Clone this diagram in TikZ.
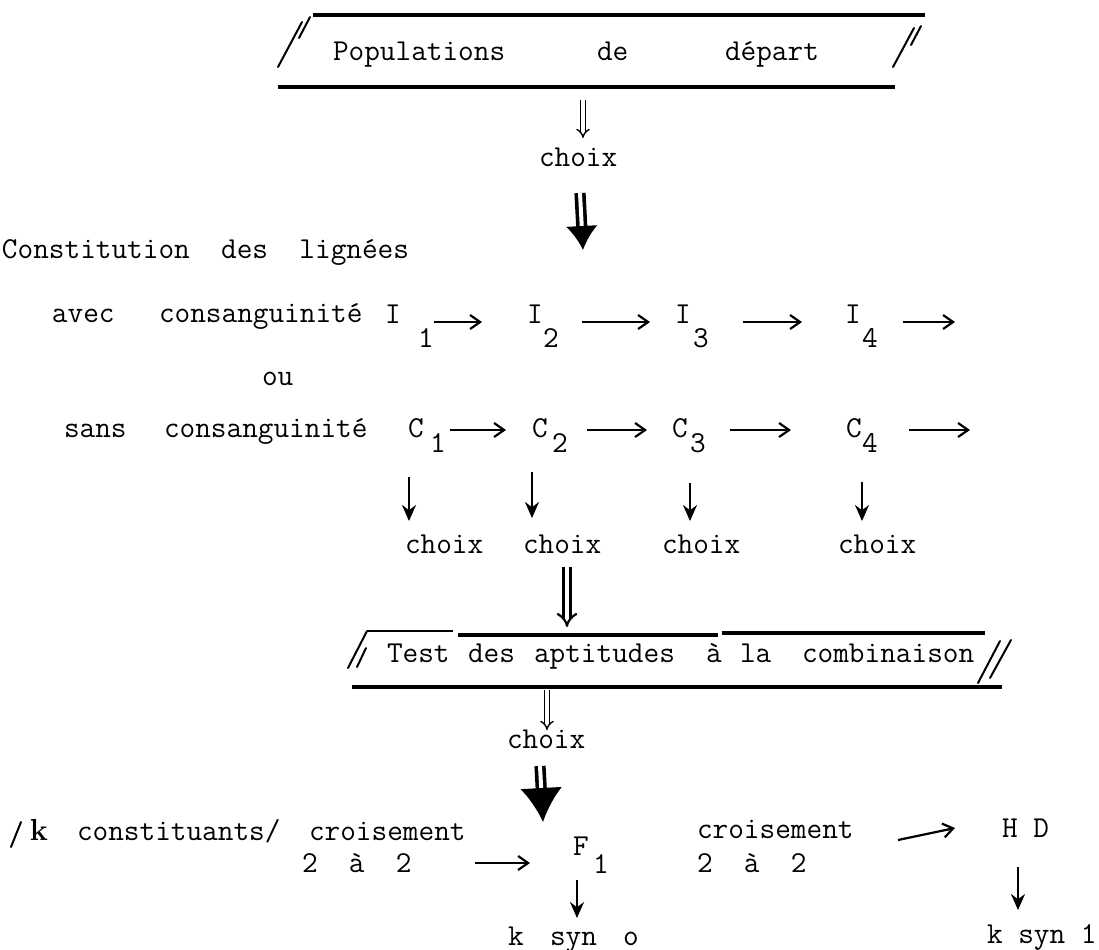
\documentclass[tikz,border=0pt]{standalone}
\usetikzlibrary{arrows.meta}
\begin{document}
\begin{tikzpicture}[x=0.5pt,y=-0.5pt,
  txt/.style={anchor=base west, inner sep=0pt, outer sep=0pt, font=\fontsize{15.2}{18}\selectfont\ttfamily},
  boxline/.style={line width=1.6pt},
  thinline/.style={line width=1pt},
  slash/.style={line width=1pt, line cap=round},
  harrow/.style={line width=1.1pt, -{Straight Barb[length=5pt,width=7pt]}},
  varrow/.style={line width=1.1pt, -{Stealth[length=8pt,width=7pt]}},
  thindbl/.style={double, double distance=1.6pt, line width=0.7pt, -{Implies}},
  boldbl/.style={double, double distance=2.4pt, line width=1.1pt, -{Implies}},
  fatarrow/.style={double, double distance=2pt, line width=1.8pt, -{Latex[length=12pt,width=16pt]}},
  fatarrowB/.style={double, double distance=2pt, line width=1.8pt, -{Latex[length=17pt,width=21pt]}},
]
\fill[white] (0,0) rectangle (1099,949);
\useasboundingbox (0,0) rectangle (1099,949);

% ---- top box
\draw[boxline] (313,15) -- (925,15);
\draw[boxline] (278,87) -- (895,87);
\draw[slash] (278,67) -- (302,22);
\draw[slash] (299,38) -- (310,17);
\draw[slash] (893,67) -- (914,28);
\draw[slash] (911,45) -- (921,26);
\node[txt] (pop) at (333,60) {Populations};
\node[txt] (de) at (597,60) {de};
\node[txt] (depart) at (725,60) {départ};

\coordinate (t1) at (583,100); \coordinate (t2) at (583,138);
\draw[thindbl] (t1) -- (t2);
\node[txt] (choixA) at (539,166) {choix};
\coordinate (f1) at (580,193); \coordinate (f2) at (583,250);
\draw[fatarrow] (f1) -- (f2);

% ---- lignées
\node[txt] (constit) at (2,258) {Constitution~~des~~lignées};
\node[txt] (avec) at (52,322) {avec};
\node[txt] (consA) at (159,322) {consanguinité};
\node[txt] (I1) at (385,323) {I}; \node[txt] (I1d) at (418,347) {1};
\node[txt] (I2) at (527,323) {I}; \node[txt] (I2d) at (543,347) {2};
\node[txt] (I3) at (675,323) {I}; \node[txt] (I3d) at (693,347) {3};
\node[txt] (I4) at (845,323) {I}; \node[txt] (I4d) at (862,347) {4};
\coordinate (ia1) at (434,322); \coordinate (ia2) at (482,322);
\coordinate (ib1) at (582,322); \coordinate (ib2) at (650,322);
\coordinate (ic1) at (743,322); \coordinate (ic2) at (802,322);
\coordinate (id1) at (903,322); \coordinate (id2) at (955,322);
\draw[harrow] (ia1) -- (ia2);
\draw[harrow] (ib1) -- (ib2);
\draw[harrow] (ic1) -- (ic2);
\draw[harrow] (id1) -- (id2);

\node[txt] (ou) at (262,385) {ou};

\node[txt] (sans) at (64,437) {sans};
\node[txt] (consB) at (164,437) {consanguinité};
\node[txt] (C1) at (408,437) {C}; \node[txt] (C1d) at (430,452) {1};
\node[txt] (C2) at (532,437) {C}; \node[txt] (C2d) at (552,452) {2};
\node[txt] (C3) at (672,437) {C}; \node[txt] (C3d) at (690,452) {3};
\node[txt] (C4) at (846,437) {C}; \node[txt] (C4d) at (862,452) {4};
\coordinate (ca1) at (450,430); \coordinate (ca2) at (506,430);
\coordinate (cb1) at (587,430); \coordinate (cb2) at (647,430);
\coordinate (cc1) at (730,430); \coordinate (cc2) at (791,430);
\coordinate (cd1) at (909,430); \coordinate (cd2) at (970,430);
\draw[harrow] (ca1) -- (ca2);
\draw[harrow] (cb1) -- (cb2);
\draw[harrow] (cc1) -- (cc2);
\draw[harrow] (cd1) -- (cd2);

% ---- choix row
\coordinate (v1a) at (409,477); \coordinate (v1b) at (409,521);
\coordinate (v2a) at (532,472); \coordinate (v2b) at (532,518);
\coordinate (v3a) at (690,483); \coordinate (v3b) at (690,521);
\coordinate (v4a) at (862,482); \coordinate (v4b) at (862,521);
\draw[varrow] (v1a) -- (v1b);
\draw[varrow] (v2a) -- (v2b);
\draw[varrow] (v3a) -- (v3b);
\draw[varrow] (v4a) -- (v4b);
\node[txt] (ch1) at (405,553) {choix};
\node[txt] (ch2) at (523,553) {choix};
\node[txt] (ch3) at (662,553) {choix};
\node[txt] (ch4) at (838,553) {choix};
\coordinate (b1) at (567,567); \coordinate (b2) at (567,627);
\draw[boldbl] (b1) -- (b2);

% ---- test box
\draw[thinline] (367,631) -- (453,631);
\draw[boxline] (458,635) -- (718,635);
\draw[boxline] (722,633) -- (985,633);
\draw[boxline] (352,687) -- (1002,687);
\draw[slash] (348,668) -- (367,631);
\draw[slash] (357,667) -- (366,648);
\draw[slash] (978,683) -- (1000,641);
\draw[slash] (990,678) -- (1011,640);
\node[txt] (test) at (387,662) {Test};
\node[txt] (des) at (468,662) {des};
\node[txt] (apt) at (534,662) {aptitudes};
\node[txt] (a) at (706,662) {à};
\node[txt] (la) at (740,662) {la};
\node[txt] (comb) at (802,662) {combinaison};

\coordinate (s1) at (547,690); \coordinate (s2) at (547,730);
\draw[thindbl] (s1) -- (s2);
\node[txt] (choixB) at (507,748) {choix};
\coordinate (g1) at (540,766); \coordinate (g2) at (543,822);
\draw[fatarrowB] (g1) -- (g2);

% ---- bottom
\draw[slash] (11,847) -- (21,822);
\node[txt, font=\fontsize{15.2}{18}\selectfont\rmfamily\bfseries] (k) at (30,840) {k};
\node[txt] (constit2) at (77,840) {constituants/};
\node[txt] (crA) at (309,840) {croisement};
\node[txt] (crA2) at (302,872) {2~~à~~2};
\coordinate (h1) at (475,863); \coordinate (h2) at (530,863);
\draw[harrow] (h1) -- (h2);
\node[txt] (F) at (573,855) {F}; \node[txt] (Fd) at (593,873) {1};
\coordinate (w1) at (577,880); \coordinate (w2) at (577,918);
\draw[varrow] (w1) -- (w2);
\node[txt] (ksA) at (508,945) {k};
\node[txt] (synA) at (550,945) {syn};
\node[txt] (oA) at (623,945) {o};

\node[txt] (crB) at (697,838) {croisement};
\node[txt] (crB2) at (697,872) {2~~à~~2};
\coordinate (j1) at (898,840); \coordinate (j2) at (955,828);
\draw[harrow] (j1) -- (j2);
\node[txt] (HD) at (1002,837) {H~D};
\coordinate (u1) at (1018,867); \coordinate (u2) at (1018,910);
\draw[varrow] (u1) -- (u2);
\node[txt] (ksB) at (987,943) {k~syn~1};
\end{tikzpicture}
\end{document}
